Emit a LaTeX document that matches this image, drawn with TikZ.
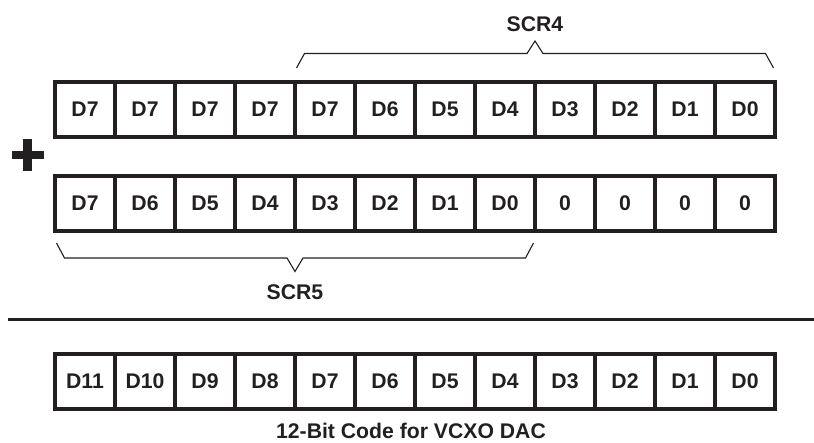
\documentclass[tikz,border=0pt]{standalone}
\usepackage{fontspec}
\setmainfont{Liberation Sans}
\definecolor{ink}{HTML}{231F20}
\begin{document}
\begin{tikzpicture}[x=1pt,y=-1pt,
  cell/.style={draw=ink,line width=3.2pt,minimum width=60pt,minimum height=55pt,
    inner sep=0pt,outer sep=0pt,anchor=center,text=ink,
    font=\fontsize{21.2}{25}\selectfont\bfseries},
  lbl/.style={text=ink,inner sep=0pt,font=\fontsize{21.2}{25}\selectfont\bfseries},
  brace/.style={draw=ink,line width=1.1pt,line join=miter},
  sep/.style={draw=ink,line width=3.2pt}]
\useasboundingbox (0,0) rectangle (814,442);
% row 1
\foreach \t [count=\i] in {D7,D7,D7,D7,D7,D6,D5,D4,D3,D2,D1,D0}
  \node[cell] (a\i) at ({55+60*\i-30},109.5) {\t};
% row 2
\foreach \t [count=\i] in {D7,D6,D5,D4,D3,D2,D1,D0,0,0,0,0}
  \node[cell] (b\i) at ({55+60*\i-30},203.5) {\t};
% row 3
\foreach \t [count=\i] in {D11,D10,D9,D8,D7,D6,D5,D4,D3,D2,D1,D0}
  \node[cell] (c\i) at ({55+60*\i-30},381.5) {\t};
% plus sign
\fill[ink] (11.5,150.5) rectangle (43.5,159);
\fill[ink] (23,138.5) rectangle (32,170.5);
% SCR4 brace
\draw[brace] (296.5,68) -- (304.5,53.5) -- (527,53.5) -- (535,41) -- (543,53.5) -- (765.5,53.5) -- (773.5,68);
\node[lbl] (scr4) at (535,24) {SCR4};
% SCR5 brace
\draw[brace] (56.5,243) -- (64.5,258) -- (287,258) -- (295,271.5) -- (303,258) -- (525.5,258) -- (533.5,243);
\node[lbl] (scr5) at (295,292.5) {SCR5};
% separator
\coordinate (sl) at (8,319.5);
\coordinate (sr) at (814,319.5);
\draw[sep] (sl) -- (sr);
% caption
\node[lbl] (cap) at (411,430.5) {12-Bit Code for VCXO DAC};
\end{tikzpicture}
\end{document}
